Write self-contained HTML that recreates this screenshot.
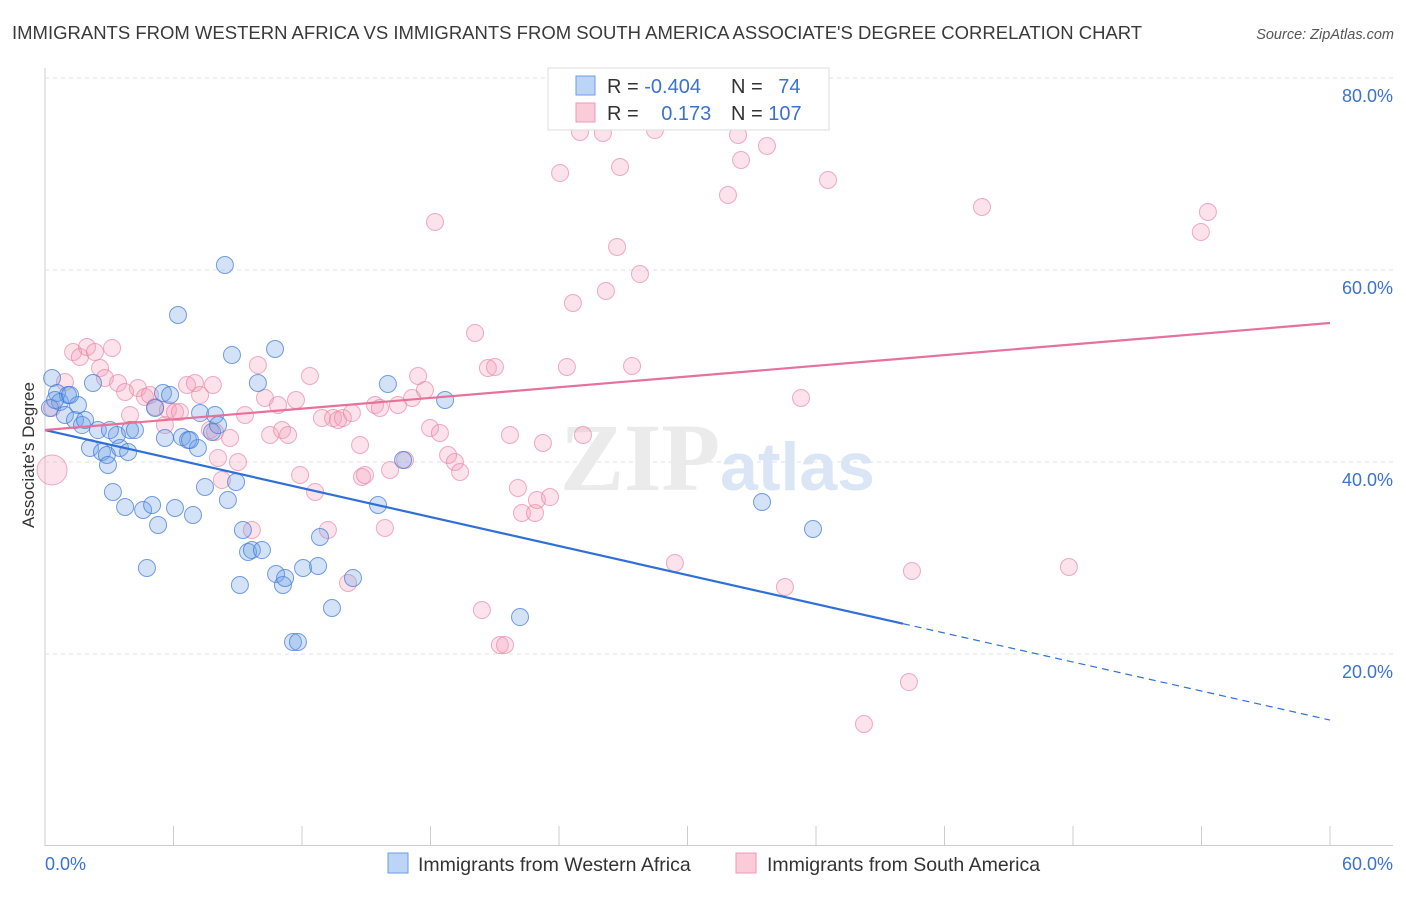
<!DOCTYPE html>
<html><head><meta charset="utf-8"><style>
body{margin:0;background:#fff;font-family:"Liberation Sans",sans-serif;}
</style></head><body>
<svg id="chart" width="1406" height="892" xmlns="http://www.w3.org/2000/svg">
<text x="12" y="39" font-size="18.5" fill="#3a3a3a">IMMIGRANTS FROM WESTERN AFRICA VS IMMIGRANTS FROM SOUTH AMERICA ASSOCIATE'S DEGREE CORRELATION CHART</text>
<text x="1394" y="39" font-size="14.5" fill="#555" font-style="italic" text-anchor="end">Source: ZipAtlas.com</text>
<g id="grid"></g>
<text x="720" y="490" font-size="96" fill="#ebebeb" text-anchor="end" font-family="Liberation Serif" font-weight="bold">ZIP</text>
<text x="720" y="490" font-size="68" fill="#dae6f6" font-weight="bold">atlas</text>
<g id="points"></g>
<g id="lines"></g>
<text transform="translate(34,455) rotate(-90)" font-size="17" fill="#333" text-anchor="middle">Associate's Degree</text>
<g>
<rect x="548" y="68" width="281" height="62" fill="#fff" stroke="#ddd"/>
<rect x="576" y="76" width="19" height="19" fill="#bcd4f5" stroke="#6a9ee6"/>
<rect x="576" y="103" width="19" height="19" fill="#fbcbd9" stroke="#ee9ab4"/>
<text x="607" y="93" font-size="20" fill="#333">R = <tspan fill="#3a72d2">-0.404</tspan></text>
<text x="731" y="93" font-size="20" fill="#333">N = <tspan dx="10" fill="#3a72d2">74</tspan></text>
<text x="607" y="120" font-size="20" fill="#333">R = <tspan dx="17" fill="#3a72d2">0.173</tspan></text>
<text x="731" y="120" font-size="20" fill="#333">N = <tspan fill="#3a72d2">107</tspan></text>
</g>
<g>
<rect x="388" y="853" width="20" height="20" fill="#bcd4f5" stroke="#6a9ee6"/>
<text x="418" y="871" font-size="19.5" fill="#333">Immigrants from Western Africa</text>
<rect x="736" y="853" width="20" height="20" fill="#fbcbd9" stroke="#ee9ab4"/>
<text x="767" y="871" font-size="19.5" fill="#333">Immigrants from South America</text>
</g>
<text x="45" y="870" font-size="18" fill="#3a72d2">0.0%</text>
<text x="1393" y="870" font-size="18" fill="#3a72d2" text-anchor="end">60.0%</text>
</svg>
<script>
const yTicks=[20,40,60,80];
const yTickLabels=["20.0%","40.0%","60.0%","80.0%"];
const xTicks=[0,6,12,18,24,30,36,42,48,54,60];
const blueX=[.33,.56,.70,1.07,.93,1.40,1.54,1.73,2.10,2.24,2.47,2.66,2.89,2.94,3.17,3.36,3.50,3.74,3.88,3.97,4.20,4.58,4.76,5.00,5.14,5.28,5.60,5.51,5.84,6.07,6.21,6.40,6.68,6.91,7.14,7.24,7.47,7.80,7.94,8.08,8.40,8.54,8.73,8.92,9.10,9.24,9.48,9.66,9.94,10.13,10.74,10.79,11.11,11.21,11.58,11.81,12.05,12.75,12.84,13.40,14.38,15.55,16.01,16.72,18.68,22.18,33.48,35.86,.23,.47,1.17,1.87,3.03,6.77];
const blueY=[48.75,47.19,46.25,46.98,44.90,44.38,45.94,43.85,41.46,48.23,43.33,41.04,40.73,39.69,36.88,42.81,41.46,35.31,41.04,43.33,43.33,35.00,28.96,35.52,45.63,33.44,42.50,47.19,46.98,35.21,55.31,42.60,42.29,34.48,41.46,45.10,37.40,43.13,44.90,43.85,60.52,36.04,51.15,37.92,27.19,32.92,30.63,30.83,48.23,30.83,51.77,28.33,27.19,27.92,21.25,21.25,28.96,29.17,32.19,24.79,27.92,35.52,48.13,40.21,46.46,23.85,35.83,33.02,45.63,46.46,46.98,44.38,43.33,42.29];
const pinkX=[.33,.93,1.31,1.63,1.96,2.33,2.57,3.13,2.80,3.41,3.74,3.97,4.34,4.67,4.90,5.14,5.60,5.74,6.07,6.30,6.63,7.00,7.24,7.70,7.84,7.94,8.08,8.26,8.64,9.01,9.34,9.66,9.94,10.27,10.51,10.88,11.07,11.35,11.72,11.91,12.37,12.61,12.93,13.21,13.45,13.68,13.91,14.15,14.33,14.71,14.80,14.94,15.41,15.64,15.87,16.11,16.48,16.81,17.14,17.42,17.74,17.98,18.21,18.44,18.82,19.14,19.38,20.08,20.40,20.68,21.01,21.24,21.48,21.71,22.08,22.27,22.88,22.97,23.25,23.58,24.05,24.37,24.65,24.98,25.12,26.05,26.19,26.71,26.85,27.41,27.78,28.48,29.41,31.89,32.36,32.50,33.71,34.55,35.30,36.56,38.24,40.34,40.48,43.75,47.81,53.97,54.30];
const pinkY=[45.63,48.33,51.46,50.94,51.98,51.46,49.79,51.88,48.75,48.23,47.29,44.90,47.71,46.77,46.98,45.73,43.85,45.42,45.21,45.21,48.02,48.23,46.98,43.33,48.02,43.13,40.42,38.13,42.50,40.00,44.90,32.92,50.10,46.67,42.81,45.94,43.33,42.81,46.46,38.65,48.96,36.88,44.58,32.92,44.58,44.38,44.58,27.40,45.10,41.77,38.44,38.65,45.94,45.63,33.13,39.17,45.94,40.21,46.67,48.96,47.50,43.54,65.00,43.02,40.73,40.00,38.96,53.44,24.58,49.79,49.90,20.94,20.94,42.81,37.29,34.69,34.69,36.04,41.98,36.35,70.10,49.90,56.56,74.38,42.81,74.27,57.81,62.40,70.73,50.00,59.58,74.58,29.48,67.81,74.06,71.46,72.92,26.98,46.67,69.38,12.71,17.08,28.65,66.56,29.06,63.96,66.04];
const bigPinkX=[.33], bigPinkY=[39.17];
const blueTrend=[43.33,-0.5035], pinkTrend=[43.33,0.1858];
const NS="http://www.w3.org/2000/svg";
const X=v=>45+v/60*1285, Y=v=>846-v/80*768;
function mk(tag,attrs,parent){const e=document.createElementNS(NS,tag);for(const k in attrs)e.setAttribute(k,attrs[k]);parent.appendChild(e);return e;}
const grid=document.getElementById('grid');
let ax=mk('line',{x1:45,y1:68,x2:45,y2:846,stroke:'#ccc'},grid);


let bx=mk('line',{x1:45,y1:845.5,x2:1393,y2:845.5,stroke:'#ccc'},grid);


yTicks.forEach((t,i)=>{
 const g=mk('line',{x1:45,y1:Y(t),x2:1393,y2:Y(t),stroke:'#e2e2e2','stroke-dasharray':'4,4'},grid);
 
 
 const l=mk('text',{x:1393,y:Y(t)+24,'font-size':18,fill:'#3a72d2','text-anchor':'end'},grid);
 l.textContent=yTickLabels[i];
 
 
});
xTicks.forEach(t=>{
 const k=mk('line',{x1:X(t),y1:826,x2:X(t),y2:846,stroke:'#ccc'},grid);
 
 
});
const pts=document.getElementById('points');
function dot(x,y,r,c,name){
 const d=mk('circle',{cx:X(x),cy:Y(y),r:r,fill:c[0],stroke:c[1],'stroke-width':1},pts);
 
 
}
const pc=['rgba(244,160,188,0.3)','rgba(232,130,160,0.65)'], bc=['rgba(110,160,230,0.3)','rgba(60,120,215,0.7)'];
bigPinkX.forEach((x,i)=>dot(x,bigPinkY[i],15,pc,'point-south-america'));
pinkX.forEach((x,i)=>dot(x,pinkY[i],8.5,pc,'point-south-america'));
blueX.forEach((x,i)=>dot(x,blueY[i],8.5,bc,'point-western-africa'));
const lg=document.getElementById('lines');
const bl=x=>blueTrend[0]+blueTrend[1]*x, pl=x=>pinkTrend[0]+pinkTrend[1]*x;
let l1=mk('line',{x1:X(0),y1:Y(bl(0)),x2:X(40.06),y2:Y(bl(40.06)),stroke:'#2f6fd8','stroke-width':2.2},lg);


let l2=mk('line',{x1:X(40.06),y1:Y(bl(40.06)),x2:X(60),y2:Y(bl(60)),stroke:'#2f6fd8','stroke-width':1.2,'stroke-dasharray':'7,5'},lg);


let l3=mk('line',{x1:X(0),y1:Y(pl(0)),x2:X(60),y2:Y(pl(60)),stroke:'#e8719a','stroke-width':2.2},lg);


</script>
</body></html>
